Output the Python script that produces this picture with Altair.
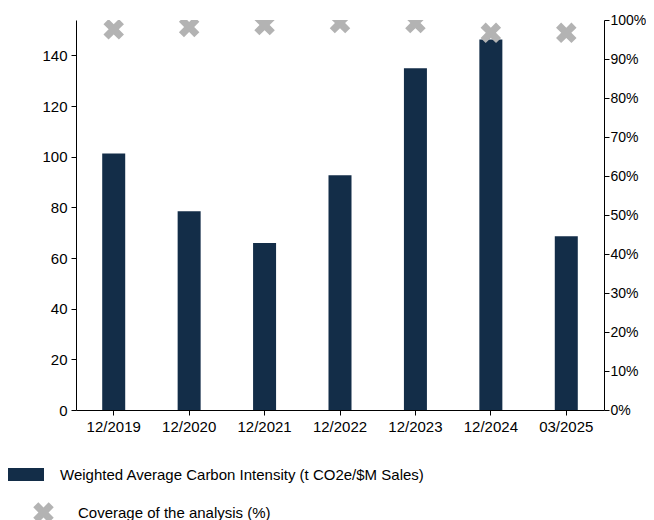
import altair as alt
import pandas as pd

periods = ["12/2019", "12/2020", "12/2021", "12/2022", "12/2023", "12/2024", "03/2025"]
waci = [101.3, 78.5, 65.9, 92.7, 134.9, 146.3, 68.6]
coverage = [0.976, 0.982, 0.987, 0.992, 0.992, 0.967, 0.967]

bar_label = "Weighted Average Carbon Intensity (t CO2e/$M Sales)"
pt_label = "Coverage of the analysis (%)"

df = pd.DataFrame({"period": periods, "waci": waci, "coverage": coverage,
                   "bar_series": bar_label, "pt_series": pt_label})

FONT = "Liberation Sans, Arial"
NAVY = "#132d48"
GRAY = "#b3b3b3"
XPATH = ("M1,-0.505 L0.495,0 L1,0.505 L0.505,1 L0,0.495 L-0.505,1 L-1,0.505 "
         "L-0.495,0 L-1,-0.505 L-0.505,-1 L0,-0.495 L0.505,-1 Z")
RECT = "M-1,-0.35H1V0.35H-1Z"

x = alt.X("period:N", sort=periods, title=None,
          scale=alt.Scale(paddingInner=0, paddingOuter=0),
          axis=alt.Axis(labelAngle=0, tickSize=5, labelPadding=4, domainColor="black",
                        tickColor="black", labelColor="black"))

bars = alt.Chart(df).mark_bar(size=23).encode(
    x=x,
    y=alt.Y("waci:Q", title=None,
            scale=alt.Scale(domain=[0, 154], nice=False),
            axis=alt.Axis(orient="left", values=[0, 20, 40, 60, 80, 100, 120, 140],
                          grid=False, tickSize=5, labelPadding=4, domainColor="black",
                          tickColor="black", labelColor="black")),
    color=alt.Color("bar_series:N", title=None,
                    scale=alt.Scale(domain=[bar_label], range=[NAVY]),
                    legend=alt.Legend(orient="none", legendX=-69, legendY=436,
                                      symbolType=RECT, symbolSize=1369,
                                      labelOffset=16, labelLimit=600, padding=0,
                                      symbolStrokeWidth=0)),
)

points = alt.Chart(df).mark_point(filled=True, size=420, opacity=1, clip=True,
                                  color=GRAY, strokeWidth=0).encode(
    x=x,
    y=alt.Y("coverage:Q", title=None,
            scale=alt.Scale(domain=[0, 1], nice=False),
            axis=alt.Axis(orient="right", format="%", values=[i / 10 for i in range(11)],
                          grid=False, tickSize=5, labelPadding=1, labelFontSize=14,
                          domainColor="black", tickColor="black", labelColor="black")),
    shape=alt.Shape("pt_series:N", title=None,
                    scale=alt.Scale(domain=[pt_label], range=[XPATH]),
                    legend=alt.Legend(orient="none", legendX=-43, legendY=482,
                                      symbolSize=420, labelOffset=24, labelLimit=600,
                                      padding=0, symbolFillColor=GRAY,
                                      symbolStrokeWidth=0)),
)

chart = alt.layer(bars, points).resolve_scale(
    y="independent", color="independent", shape="independent"
).properties(
    width=528, height=390,
    autosize=alt.AutoSizeParams(type="none"),
    padding={"left": 68, "top": 12, "right": 42, "bottom": 110},
).configure_view(stroke=None).configure_axis(
    labelFont=FONT, labelFontSize=15
).configure_legend(
    labelFont=FONT, labelFontSize=15, labelColor="black"
)

chart.save("out.html", embed_options={"renderer": "svg", "actions": False})
